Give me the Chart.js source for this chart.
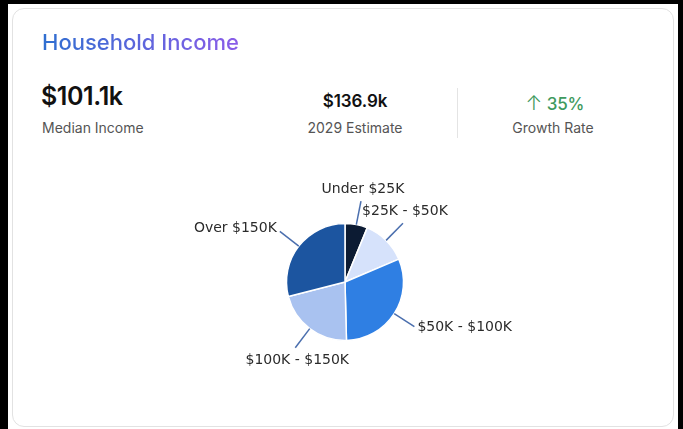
<!DOCTYPE html>
<html>
<head>
<meta charset="utf-8">
<script src="https://cdn.jsdelivr.net/npm/chart.js@4.4.1/dist/chart.umd.min.js"></script>
<style>
  html, body { margin: 0; padding: 0; }
  body { width: 683px; height: 429px; background: #fff; position: relative; overflow: hidden; font-family: Inter, "Noto Sans", sans-serif; }
  .bar-top { position: absolute; left: 0; top: 0; width: 683px; height: 4px; background: #000; }
  .bar-left { position: absolute; left: 0; top: 0; width: 8px; height: 429px; background: #000; }
  .bar-right { position: absolute; right: 0; top: 0; width: 5px; height: 429px; background: #000; }
  .card { position: absolute; left: 12px; top: 8px; width: 660px; height: 417px; border: 1px solid #e2e2e2; border-radius: 12px; background: #fff; }
  .title { position: absolute; left: 42px; top: 29px; font-size: 22px; font-weight: 500; letter-spacing: 0;
           background: linear-gradient(90deg, #2f6fd0, #8a5ce8); -webkit-background-clip: text; background-clip: text; color: transparent; }
  .big { position: absolute; left: 41px; top: 81px; font-size: 25px; font-weight: 600; color: #111; letter-spacing: -0.4px; }
  .mid { position: absolute; top: 91px; font-size: 17px; font-weight: 600; color: #111; width: 160px; text-align: center; letter-spacing: -0.1px; }
  .sub { position: absolute; top: 119px; font-size: 14px; color: #555; }
  .center { width: 160px; text-align: center; }
  .green { color: #3f9a5e; font-weight: 500; }
  .divider { position: absolute; left: 457px; top: 88px; width: 1px; height: 50px; background: #e4e4e4; }
  #pie { position: absolute; left: 175px; top: 172px; }
</style>
</head>
<body>
<div class="bar-top"></div>
<div class="bar-left"></div>
<div class="bar-right"></div>
<div class="card"></div>
<div class="title">Household Income</div>
<div class="big">$101.1k</div>
<div class="sub" style="left:42px">Median Income</div>
<div class="mid" style="left:275px">$136.9k</div>
<div class="sub center" style="left:275px">2029 Estimate</div>
<div class="divider"></div>
<div class="mid green" style="left:475px"><span style="font-weight:300;font-size:20px">&#8593;</span> 35%</div>
<div class="sub center" style="left:473px">Growth Rate</div>
<canvas id="pie" width="340" height="220"></canvas>
<script>
const categories = ['Under $25K', '$25K - $50K', '$50K - $100K', '$100K - $150K', 'Over $150K'];
const shares = [6.2, 12.4, 31, 21.4, 29];
const sliceColors = ['#0c1b33', '#d6e2fb', '#2f7fe3', '#a9c2f0', '#1c55a0'];

const outsideLabels = {
    id: 'outsideLabels',
    afterDatasetsDraw(chart) {
        const ctx = chart.ctx;
        const meta = chart.getDatasetMeta(0);
        ctx.save();
        ctx.font = '14px "DejaVu Sans", Verdana, sans-serif';
        ctx.fillStyle = '#2b2b2b';
        ctx.strokeStyle = '#4b6fae';
        ctx.lineWidth = 1.5;
        meta.data.forEach((arc, i) => {
            const p = arc.getProps(['x', 'y', 'startAngle', 'endAngle', 'outerRadius'], true);
            const mid = (p.startAngle + p.endAngle) / 2;
            const dx = Math.cos(mid), dy = Math.sin(mid);
            const x1 = p.x + dx * p.outerRadius, y1 = p.y + dy * p.outerRadius;
            const x2 = p.x + dx * (p.outerRadius + 24), y2 = p.y + dy * (p.outerRadius + 24);
            ctx.beginPath();
            ctx.moveTo(x1, y1);
            ctx.lineTo(x2, y2);
            ctx.stroke();
            ctx.textBaseline = 'middle';
            if (Math.abs(dy) > 0.7) {
                ctx.textAlign = 'center';
                ctx.fillText(categories[i], x2 + 2, y2 + (dy < 0 ? -12 : 13));
            } else if (dx > 0) {
                ctx.textAlign = 'left';
                ctx.fillText(categories[i], x2 + 3, y2 + 1);
            } else {
                ctx.textAlign = 'right';
                ctx.fillText(categories[i], x2 - 3, y2 - 3);
            }
        });
        ctx.restore();
    }
};

new Chart(document.getElementById('pie'), {
    type: 'pie',
    data: {
        labels: categories,
        datasets: [{
            data: shares,
            backgroundColor: sliceColors,
            borderColor: '#ffffff',
            borderWidth: 1.5,
            hoverOffset: 0,
            radius: 58.5
        }]
    },
    options: {
        responsive: false,
        animation: false,
        plugins: { legend: { display: false }, tooltip: { enabled: false } }
    },
    plugins: [outsideLabels]
});
</script>
</body>
</html>
